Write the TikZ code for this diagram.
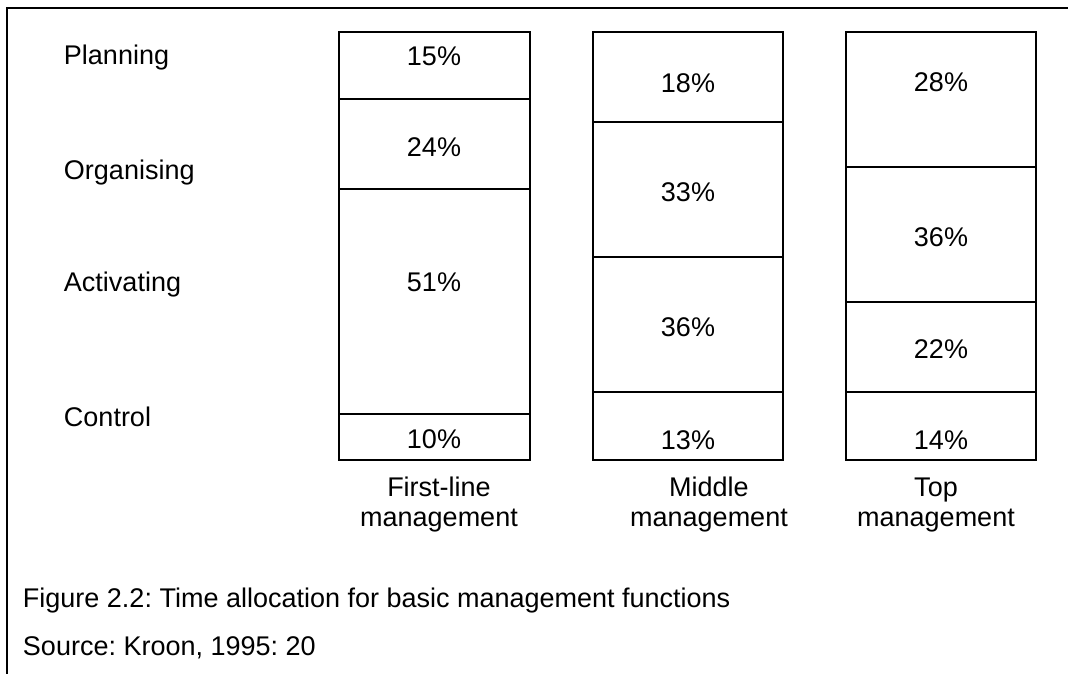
\documentclass[tikz,border=0pt]{standalone}
\usepackage{fontspec}
\setmainfont{Liberation Sans}
\usepackage{tikz}
\frenchspacing

\begin{document}
\begin{tikzpicture}[x=0.025cm,y=-0.025cm,line width=1.4pt, every node/.style={font=\fontsize{19.2}{23}\selectfont,inner sep=0pt}, lab/.style={anchor=base west}, pct/.style={anchor=base}]

\useasboundingbox (0,0) rectangle (1068,674);

\draw (7,674) -- (7,8) -- (1068,8);

\draw (339,32) rectangle (530,460);
\draw (339,99) -- (530,99);
\draw (339,189) -- (530,189);
\draw (339,414) -- (530,414);

\draw (593,32) rectangle (783,460);
\draw (593,122) -- (783,122);
\draw (593,257) -- (783,257);
\draw (593,392) -- (783,392);

\draw (846,32) rectangle (1036,460);
\draw (846,167) -- (1036,167);
\draw (846,302) -- (1036,302);
\draw (846,392) -- (1036,392);

\node[lab] (planning) at (63,65) {Planning};
\node[lab] (organising) at (63,180) {Organising};
\node[lab] (activating) at (63,292) {Activating};
\node[lab] (control) at (63,427) {Control};

\node[pct] (first15) at (434,66) {15\%};
\node[pct] (first24) at (434,157) {24\%};
\node[pct] (first51) at (434,292) {51\%};
\node[pct] (first10) at (434,449) {10\%};

\node[pct] (mid18) at (688,93) {18\%};
\node[pct] (mid33) at (688,202) {33\%};
\node[pct] (mid36) at (688,337) {36\%};
\node[pct] (mid13) at (688,450) {13\%};

\node[pct] (top28) at (941,92) {28\%};
\node[pct] (top36) at (941,247) {36\%};
\node[pct] (top22) at (941,359) {22\%};
\node[pct] (top14) at (941,450) {14\%};

\node[pct] (firstname) at (439,497) {First-line};
\node[pct] (firstmgt) at (439,527) {management};
\node[pct] (midname) at (709,497) {Middle};
\node[pct] (midmgt) at (709,527) {management};
\node[pct] (topname) at (936,497) {Top};
\node[pct] (topmgt) at (936,527) {management};

\node[lab] (figure) at (22,608) {Figure 2.2: Time allocation for basic management functions};
\node[lab] (source) at (22,656) {Source: Kroon, 1995: 20};

\end{tikzpicture}
\end{document}
